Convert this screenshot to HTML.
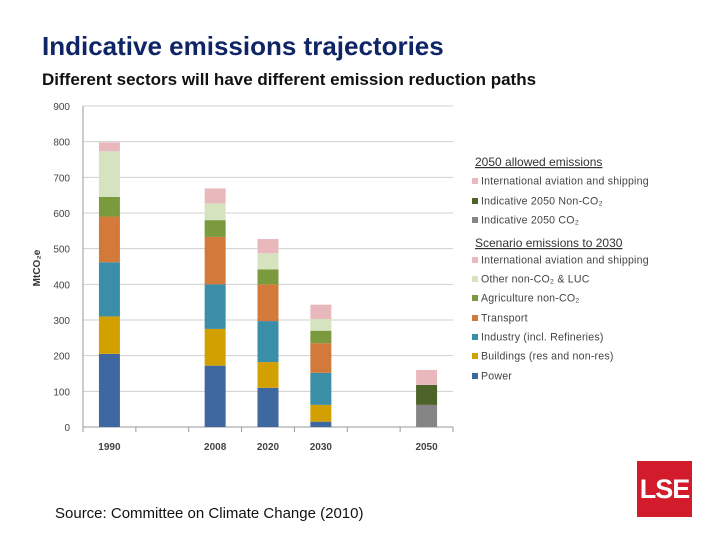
<!DOCTYPE html>
<html><head><meta charset="utf-8"><style>
body{margin:0;width:720px;height:540px;background:#fff;position:relative;overflow:hidden;font-family:"Liberation Sans",sans-serif}
.t{position:absolute;left:42px;top:31px;font-size:26px;font-weight:bold;color:#0f2566}
.s{position:absolute;left:42px;top:70px;font-size:17px;font-weight:bold;color:#111}
.src{position:absolute;left:55px;top:505px;font-size:15px;color:#111}
.logo{position:absolute;left:637px;top:461px;width:55px;height:56px;background:#d21b2b;color:#fff;font-size:27px;font-weight:bold;display:flex;align-items:center;justify-content:center;letter-spacing:-1px}
</style></head><body>
<div class="t">Indicative emissions trajectories</div>
<div class="s">Different sectors will have different emission reduction paths</div>
<svg id="c" width="720" height="540" style="position:absolute;left:0;top:0"></svg>
<div class="src">Source: Committee on Climate Change (2010)</div>
<div class="logo">LSE</div>
<script>
const categories=["1990","","2008","2020","2030","","2050"];
const seriesNames=["Power","Buildings (res and non-res)","Industry (incl. Refineries)","Transport","Agriculture non-CO2","Other non-CO2 & LUC","International aviation and shipping"];
const power=[205,0,172,110,15,0,0];
const buildings=[105,0,103,72,47,0,0];
const industry=[152,0,125,115,90,0,0];
const transport=[128,0,133,103,83,0,0];
const agriculture=[55,0,47,42,35,0,0];
const otherNonCO2=[128,0,47,45,33,0,0];
const intlScenario=[25,0,42,40,40,0,0];
const co2_2050=[0,0,0,0,0,0,62];
const nonCO2_2050=[0,0,0,0,0,0,56];
const intl2050=[0,0,0,0,0,0,42];
const yTicks=[0,100,200,300,400,500,600,700,800,900];
const colors=["#3f67a0","#d2a000","#3b8ea8","#d37a3a","#7b9a3e","#d6e3bf","#e8b8bd","#858585","#4e6328","#e8b8bd"];
const stacks=[power,buildings,industry,transport,agriculture,otherNonCO2,intlScenario,co2_2050,nonCO2_2050,intl2050];
const svg=document.getElementById('c');const NS='http://www.w3.org/2000/svg';
const x0=83,x1=453,y0=427,y1=106;
const y=v=>y0-(v/900)*(y0-y1);
const slot=(x1-x0)/categories.length;
const xc=i=>x0+slot*(i+0.5);
function mk(t,a,p){const e=document.createElementNS(NS,t);for(const k in a)e.setAttribute(k,a[k]);(p||svg).appendChild(e);return e;}
yTicks.forEach(v=>{const l=mk('line',{x1:x0,x2:x1,y1:y(v),y2:y(v),stroke:v?'#d0d0d0':'#999','stroke-width':1});


const t=mk('text',{x:70,y:y(v)+4,'text-anchor':'end','font-size':10,fill:'#444'});t.textContent=v;

});
mk('line',{x1:x0,x2:x0,y1:y1,y2:y0+4,stroke:'#999'});
for(let i=0;i<=categories.length;i++){const tk=mk('line',{x1:x0+slot*i,x2:x0+slot*i,y1:y0,y2:y0+5,stroke:'#999'});

}
categories.forEach((c,i)=>{if(!c)return;const t=mk('text',{x:xc(i),y:450,'text-anchor':'middle','font-size':10,'font-weight':'bold',fill:'#444'});t.textContent=c;


let cum=0;stacks.forEach((s,k)=>{const v=s[i];if(!v)return;const r=mk('rect',{x:xc(i)-10.5,width:21,y:y(cum+v),height:y(cum)-y(cum+v),fill:colors[k]});

cum+=v;});});
const yt=mk('text',{transform:'translate(40,268) rotate(-90)','text-anchor':'middle','font-size':10,'font-weight':'bold',fill:'#333'});yt.textContent='MtCO₂e';


const leg=[["h","2050 allowed emissions",162],[9,"International aviation and shipping",181],[8,"Indicative 2050 Non-CO₂",201],[7,"Indicative 2050 CO₂",220],["h","Scenario emissions to 2030",243],[6,"International aviation and shipping",260],[5,"Other non-CO₂ & LUC",279],[4,"Agriculture non-CO₂",298],[3,"Transport",318],[2,"Industry (incl. Refineries)",337],[1,"Buildings (res and non-res)",356],[0,"Power",376]];
leg.forEach(([k,txt,yy])=>{if(k==="h"){const t=mk('text',{x:475,y:yy+4,'font-size':12,fill:'#333','text-decoration':'underline'});t.textContent=txt;

return;}
const r=mk('rect',{x:472,y:yy-3,width:6,height:6,fill:colors[k]});


const t=mk('text',{x:481,y:yy+3.5,'font-size':10.6,'letter-spacing':0.2,fill:'#444'});t.textContent=txt;

});
</script>
</body></html>
